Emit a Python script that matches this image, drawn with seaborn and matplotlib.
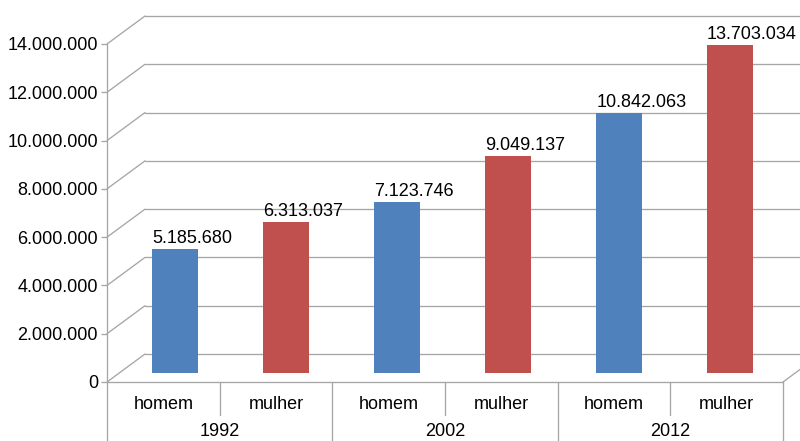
import matplotlib
matplotlib.use("Agg")
import matplotlib.pyplot as plt
from matplotlib.ticker import FuncFormatter
from matplotlib.transforms import Affine2D
import seaborn as sns
import pandas as pd

# Population by sex in three survey years
anos = ["1992", "2002", "2012"]
sexos = ["homem", "mulher"]
homem = [5185680, 7123746, 10842063]
mulher = [6313037, 9049137, 13703034]

y_ticks = [0, 2000000, 4000000, 6000000, 8000000, 10000000, 12000000, 14000000]
cores = {"homem": "#4F81BD", "mulher": "#C0504D"}

linhas = []
for i, ano in enumerate(anos):
    linhas.append({"grupo": f"{ano} homem", "ano": ano, "sexo": "homem", "valor": homem[i]})
    linhas.append({"grupo": f"{ano} mulher", "ano": ano, "sexo": "mulher", "valor": mulher[i]})
df = pd.DataFrame(linhas)


def milhar(v):
    return f"{int(round(v)):,}".replace(",", ".")


sns.set_theme(style="white")
plt.rcParams["font.family"] = ["Liberation Sans", "DejaVu Sans"]

W, H, DPI = 800, 441, 100
FS = 13
fig = plt.figure(figsize=(W / DPI, H / DPI), dpi=DPI)
ax = fig.add_axes([107 / W, 59 / H, 676 / W, 338 / H])

sns.barplot(data=df, x="grupo", y="valor", hue="sexo", palette=cores,
            dodge=False, width=0.41, legend=False, ax=ax, zorder=3,
            linewidth=0, saturation=1)

ax.set_xlim(-0.5, 5.5)
ax.set_ylim(0, 14000000)

GRAY = "#A6A6A6"
LW = 0.95

# Oblique depth of the floor/back wall expressed in data units
px_x = 676 / 6           # pixels per category
px_y = 338 / 14000000    # pixels per unit value
DX = 38 / px_x
DY = 28 / px_y

# Bars sit part-way into the depth, slightly foreshortened by perspective
bar_plane = Affine2D().scale(0.985, 0.992).translate(0.1034, 9 / px_y) + ax.transData

for cont in ax.containers:
    for p in cont:
        p.set_transform(bar_plane)
        ax.annotate(milhar(p.get_height()),
                    xy=(p.get_x(), p.get_y() + p.get_height()), xycoords=bar_plane,
                    xytext=(0, 6), textcoords="offset pixels",
                    ha="left", va="baseline", fontsize=FS, color="black",
                    zorder=4, annotation_clip=False)

# Back wall gridlines and left-wall diagonals
x0, x1 = -0.5, 5.5
for v in y_ticks:
    ax.plot([x0, x0 + DX], [v, v + DY], color=GRAY, lw=LW, clip_on=False, zorder=1)
    ax.plot([x0 + DX, x1 + DX + 1], [v + DY, v + DY], color=GRAY, lw=LW,
            clip_on=False, zorder=1)
# Right edge of the floor
ax.plot([x1, x1 + DX], [0, DY], color=GRAY, lw=LW, clip_on=False, zorder=1)

# Axes styling
sns.despine(ax=ax, top=True, right=True)
for s in ("left", "bottom"):
    ax.spines[s].set_color(GRAY)
    ax.spines[s].set_linewidth(LW)
ax.set_yticks(y_ticks)
ax.yaxis.set_major_formatter(FuncFormatter(lambda v, _: milhar(v)))
ax.tick_params(axis="y", which="major", left=True, length=4, width=LW, color=GRAY,
               pad=2.5, labelsize=FS, labelcolor="black")
ax.set_xticks([])
ax.set_xlabel("")
ax.set_ylabel("")

# Two-level category axis below the floor
xt = ax.get_xaxis_transform()
ax.plot([x0, x0], [0, -0.25], color=GRAY, lw=LW, transform=xt, clip_on=False)
for g in range(len(anos)):
    left = x0 + 2 * g
    ax.plot([left + 1, left + 1], [0, -0.0976], color=GRAY, lw=LW, transform=xt, clip_on=False)
    ax.plot([left + 2, left + 2], [0, -0.25], color=GRAY, lw=LW, transform=xt, clip_on=False)
    ax.text(left + 1, -0.1716, anos[g], transform=xt, ha="center", va="bottom",
            fontsize=FS, color="black")
for i, s in enumerate(list(df["sexo"])):
    ax.text(i, -0.066, s, transform=xt, ha="center", va="center", fontsize=FS, color="black")

fig.savefig("out.png", dpi=DPI)
